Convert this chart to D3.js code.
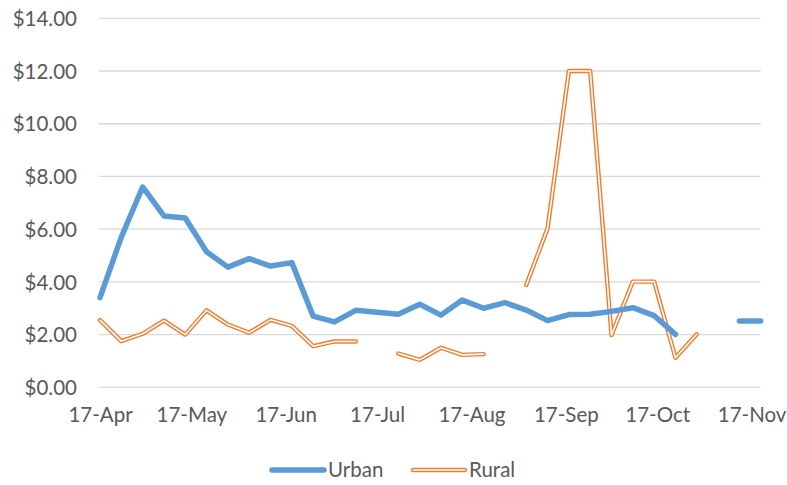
<!DOCTYPE html>
<html>
<head>
<meta charset="utf-8">
<script src="https://cdn.jsdelivr.net/npm/d3@7"></script>
<style>
  html, body { margin: 0; padding: 0; background: #fff; }
  svg { display: block; }
  text { font-family: Lato, "Open Sans", sans-serif; fill: #595959; }
</style>
</head>
<body>
<svg id="chart" width="787" height="485"></svg>
<script>
// ---- data ----
const dates = [
  "2017-04-01","2017-04-08","2017-04-15","2017-04-22","2017-04-29",
  "2017-05-06","2017-05-13","2017-05-20","2017-05-27",
  "2017-06-03","2017-06-10","2017-06-17","2017-06-24",
  "2017-07-01","2017-07-08","2017-07-15","2017-07-22","2017-07-29",
  "2017-08-05","2017-08-12","2017-08-19","2017-08-26",
  "2017-09-02","2017-09-09","2017-09-16","2017-09-23","2017-09-30",
  "2017-10-07","2017-10-14","2017-10-21","2017-10-28","2017-11-04"
];
const urban = [
  3.40, 5.70, 7.60, 6.50, 6.42, 5.14, 4.56, 4.88, 4.60, 4.73,
  2.70, 2.48, 2.92, 2.85, 2.77, 3.15, 2.74, 3.31, 3.00, 3.21,
  2.93, 2.53, 2.76, 2.77, 2.88, 3.02, 2.72, 2.01, null, null,
  2.52, 2.52
];
const rural = [
  2.55, 1.75, 2.03, 2.53, 2.00, 2.92, 2.38, 2.07, 2.56, 2.33,
  1.56, 1.74, 1.74, null, 1.28, 1.04, 1.50, 1.23, 1.26, null,
  3.88, 6.03, 12.0, 12.0, 1.98, 4.01, 4.01, 1.12, 2.01, null,
  null, null
];
const yTicks = [0, 2, 4, 6, 8, 10, 12, 14];
const xTickDates = ["2017-04-01","2017-05-01","2017-06-01","2017-07-01","2017-08-01","2017-09-01","2017-10-01","2017-11-01"];
const seriesNames = ["Urban", "Rural"];

// ---- chart ----
const parse = d3.timeParse("%Y-%m-%d");
const svg = d3.select("#chart");
const plotLeft = 100, plotRight = 760.7, plotTop = 18.3, plotBottom = 387.3;

const x = d3.scaleTime()
  .domain([parse(dates[0]), parse(dates[dates.length - 1])])
  .range([plotLeft, plotRight]);
const y = d3.scaleLinear().domain([0, 14]).range([plotBottom, plotTop]);

// gridlines
svg.append("g").selectAll("line").data(yTicks).join("line")
  .attr("x1", plotLeft - 1).attr("x2", plotRight)
  .attr("y1", d => y(d)).attr("y2", d => y(d))
  .attr("stroke", "#d9d9d9").attr("stroke-width", 1.3);

// y axis labels
const yAxis = d3.axisLeft(y).tickValues(yTicks)
  .tickFormat(d => "$" + d3.format(".2f")(d)).tickSize(0).tickPadding(0);
const gy = svg.append("g").attr("transform", `translate(${plotLeft - 23},0)`).call(yAxis);
gy.select(".domain").remove();
gy.selectAll("text").style("font-size", "20.5px").attr("fill", "#595959")
  .style("font-family", "Lato, sans-serif").attr("dy", "0.35em");

// x axis labels
const xAxis = d3.axisBottom(x).tickValues(xTickDates.map(parse))
  .tickFormat(d3.timeFormat("%y-%b")).tickSize(0).tickPadding(0);
const gx = svg.append("g").attr("transform", `translate(0,${plotBottom + 20})`).call(xAxis);
gx.select(".domain").remove();
gx.selectAll("text").style("font-size", "20.5px").attr("fill", "#595959")
  .style("font-family", "Lato, sans-serif").attr("dy", "0.72em");

const rows = dates.map((d, i) => ({ date: parse(d), urban: urban[i], rural: rural[i] }));

const urbanLine = d3.line().defined(d => d.urban !== null)
  .x(d => x(d.date)).y(d => y(d.urban));
const ruralLine = d3.line().defined(d => d.rural !== null)
  .x(d => x(d.date)).y(d => y(d.rural));

// rural double line
svg.append("path").datum(rows).attr("d", ruralLine)
  .attr("fill", "none").attr("stroke", "#ED7D31").attr("stroke-width", 4.4)
  .attr("stroke-linejoin", "round").attr("stroke-linecap", "round");
svg.append("path").datum(rows).attr("d", ruralLine)
  .attr("fill", "none").attr("stroke", "#ffffff").attr("stroke-width", 1.6)
  .attr("stroke-linejoin", "round").attr("stroke-linecap", "round");

// urban line
svg.append("path").datum(rows).attr("d", urbanLine)
  .attr("fill", "none").attr("stroke", "#5B9BD5").attr("stroke-width", 5.5)
  .attr("stroke-linejoin", "round").attr("stroke-linecap", "round");

// legend
const ly = 470;
const lg = svg.append("g");
lg.append("line").attr("x1", 272).attr("x2", 324).attr("y1", ly).attr("y2", ly)
  .attr("stroke", "#5B9BD5").attr("stroke-width", 5.5).attr("stroke-linecap", "round");
lg.append("text").attr("x", 328).attr("y", ly).attr("dy", "0.35em")
  .style("font-size", "20.5px").text(seriesNames[0]);
lg.append("line").attr("x1", 413).attr("x2", 465).attr("y1", ly).attr("y2", ly)
  .attr("stroke", "#ED7D31").attr("stroke-width", 4.4).attr("stroke-linecap", "round");
lg.append("line").attr("x1", 413).attr("x2", 465).attr("y1", ly).attr("y2", ly)
  .attr("stroke", "#ffffff").attr("stroke-width", 1.6).attr("stroke-linecap", "round");
lg.append("text").attr("x", 469).attr("y", ly).attr("dy", "0.35em")
  .style("font-size", "20.5px").text(seriesNames[1]);
</script>
</body>
</html>
